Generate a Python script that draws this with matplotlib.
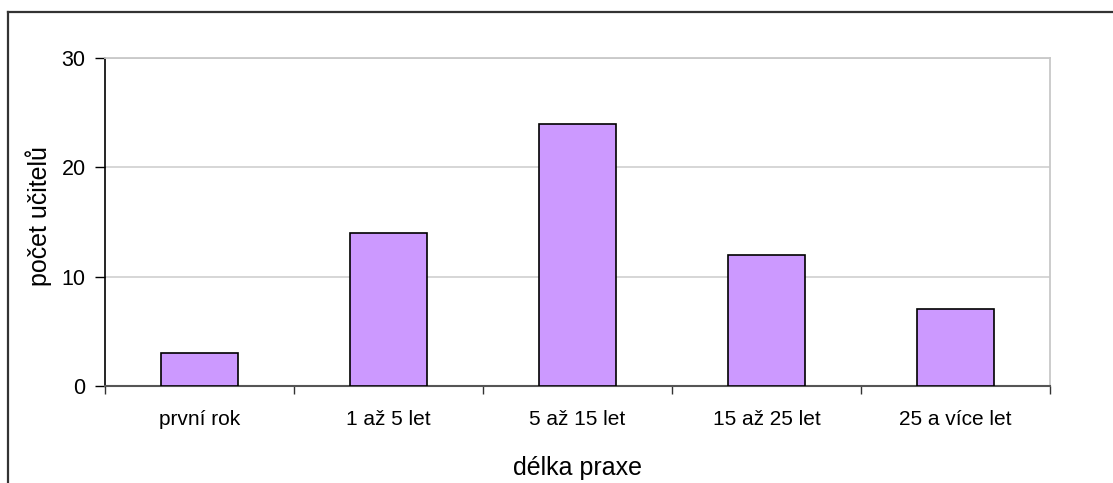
import matplotlib
matplotlib.use("Agg")
import matplotlib.pyplot as plt
from matplotlib.lines import Line2D

categories = ["první rok", "1 až 5 let", "5 až 15 let", "15 až 25 let", "25 a více let"]
teachers = [3, 14, 24, 12, 7]
y_ticks = [0, 10, 20, 30]

plt.rcParams["font.family"] = ["Liberation Sans", "DejaVu Sans"]

W, H = 1113, 483
fig = plt.figure(figsize=(W / 100, H / 100), dpi=100)

# plot area in pixel coordinates
left, right, top, bottom = 105, 1050, 58, 386
ax = fig.add_axes([left / W, 1 - bottom / H, (right - left) / W, (bottom - top) / H])

x = range(len(categories))
ax.bar(x, teachers, width=0.41, color="#CC99FF", edgecolor="black", linewidth=1.2, zorder=3)

ax.set_xlim(-0.5, len(categories) - 0.5)
ax.set_ylim(0, 30)
ax.set_yticks(y_ticks)
ax.set_xticks([i + 0.5 for i in range(-1, len(categories))], minor=False)
ax.set_xticklabels([])
ax.set_xticks(list(x), minor=True)
ax.set_xticklabels(categories, minor=True)

ax.tick_params(axis="x", which="major", direction="out", length=6, width=1, color="#333333")
ax.tick_params(axis="x", which="minor", length=0, pad=17, labelsize=15)
ax.tick_params(axis="y", direction="out", length=7, width=1, pad=7, labelsize=15.5, color="black")

ax.grid(axis="y", color="#d0d0d0", linewidth=1.2, zorder=0)
ax.set_axisbelow(True)

ax.spines["left"].set_color("black")
ax.spines["left"].set_linewidth(1.2)
ax.spines["bottom"].set_color("#555555")
ax.spines["bottom"].set_linewidth(1.5)
ax.spines["top"].set_color("#c8c8c8")
ax.spines["top"].set_linewidth(1.3)
ax.spines["right"].set_color("#c8c8c8")
ax.spines["right"].set_linewidth(1.3)

ax.set_xlabel("délka praxe", fontsize=18, labelpad=20)
ax.set_ylabel("počet učitelů", fontsize=18)
ax.yaxis.set_label_coords(-0.056, 0.518)

# outer frame: top and left edges
fig.add_artist(Line2D([8 / W, 1], [1 - 12 / H, 1 - 12 / H], transform=fig.transFigure,
                      color="#333333", linewidth=1.6))
fig.add_artist(Line2D([8 / W, 8 / W], [0, 1 - 12 / H], transform=fig.transFigure,
                      color="#333333", linewidth=1.6))

fig.savefig("out.png", dpi=100)
